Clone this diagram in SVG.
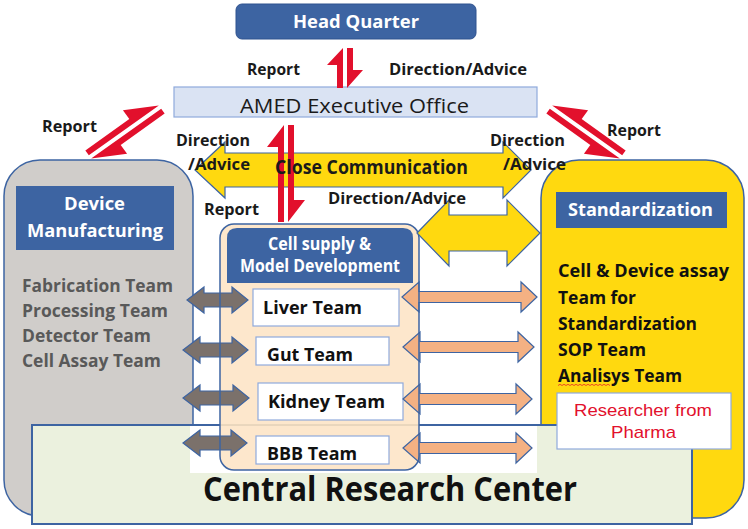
<svg xmlns="http://www.w3.org/2000/svg" width="748" height="529" viewBox="0 0 748 529">
<style>
.b{font-family:"Open Sans","Liberation Sans",sans-serif;font-weight:bold;}
.lbl{font-size:16px;fill:#1a1a1a;}
.wh{fill:#ffffff;font-size:17px;}
.grayt{font-size:17px;fill:#595959;}
.team{font-size:17px;fill:#111111;}
.std{font-size:17px;fill:#111111;}
.hdr{fill:#3d64a2;}
.red{fill:#e2102c;}
.ga{fill:#7b716b;stroke:#3d64a2;stroke-width:1.2;}
.oa{fill:#f4b183;stroke:#3d64a2;stroke-width:1.2;}
.ya{fill:#ffd90f;stroke:#3d64a2;stroke-width:1.2;}
.tb{fill:#ffffff;stroke:#8faadc;stroke-width:1.2;}
</style>
<rect width="748" height="529" fill="#ffffff"/>

<g id="device-manufacturing">
<rect x="4" y="160" width="189" height="356" rx="36" fill="#d0cdca" stroke="#3d64a2" stroke-width="1.5"/>
<rect x="16" y="186" width="158" height="64" class="hdr"/>
<text class="b wh" x="64" y="210" textLength="61" lengthAdjust="spacingAndGlyphs">Device</text>
<text class="b wh" x="27" y="237" textLength="136" lengthAdjust="spacingAndGlyphs">Manufacturing</text>
<text class="b grayt" x="22" y="292" textLength="151" lengthAdjust="spacingAndGlyphs">Fabrication Team</text>
<text class="b grayt" x="22" y="317" textLength="146" lengthAdjust="spacingAndGlyphs">Processing Team</text>
<text class="b grayt" x="22" y="342" textLength="129" lengthAdjust="spacingAndGlyphs">Detector Team</text>
<text class="b grayt" x="22" y="367" textLength="139" lengthAdjust="spacingAndGlyphs">Cell Assay Team</text>
</g>

<g id="standardization">
<rect x="541" y="160" width="203" height="358" rx="38" fill="#ffd90f" stroke="#3d64a2" stroke-width="1.5"/>
<rect x="556" y="192" width="171" height="36" class="hdr"/>
<text class="b wh" x="568" y="216" textLength="145" lengthAdjust="spacingAndGlyphs">Standardization</text>
<text class="b std" x="558" y="277" textLength="171" lengthAdjust="spacingAndGlyphs">Cell &amp; Device assay</text>
<text class="b std" x="558" y="304" textLength="78" lengthAdjust="spacingAndGlyphs">Team for</text>
<text class="b std" x="558" y="330" textLength="139" lengthAdjust="spacingAndGlyphs">Standardization</text>
<text class="b std" x="558" y="356" textLength="88" lengthAdjust="spacingAndGlyphs">SOP Team</text>
<text class="b std" x="558" y="382" textLength="124" lengthAdjust="spacingAndGlyphs">Analisys Team</text>
<path d="M558,385.5 l2,-1.2 2,1.2 2,-1.2 2,1.2 2,-1.2 2,1.2 2,-1.2 2,1.2 2,-1.2 2,1.2 2,-1.2 2,1.2 2,-1.2 2,1.2 2,-1.2 2,1.2 2,-1.2 2,1.2 2,-1.2 2,1.2 2,-1.2 2,1.2 2,-1.2 2,1.2 2,-1.2 2,1.2" fill="none" stroke="#e2102c" stroke-width="0.7"/>
</g>

<g id="central-research-center">
<rect x="32" y="425" width="660" height="99" fill="#ebf1de" stroke="#3d64a2" stroke-width="2"/>
<rect x="190" y="426" width="347" height="47" fill="#ffffff"/>
<text class="b" x="203" y="501" font-size="34" fill="#111111" textLength="374" lengthAdjust="spacingAndGlyphs">Central Research Center</text>
</g>

<g id="researcher-from-pharma">
<rect x="557" y="393" width="174" height="56" class="tb"/>
<text x="574" y="416" font-family="Liberation Sans, Arial, sans-serif" font-size="17" fill="#e2102c" textLength="138" lengthAdjust="spacingAndGlyphs">Researcher from</text>
<text x="611" y="438" font-family="Liberation Sans, Arial, sans-serif" font-size="17" fill="#e2102c" textLength="65" lengthAdjust="spacingAndGlyphs">Pharma</text>
</g>

<g id="cell-supply">
<rect x="220" y="224" width="199" height="246" rx="14" fill="#fde7cc"/>
<line x1="220" y1="425" x2="419" y2="425" stroke="#d6c6ae" stroke-width="1"/>
<path d="M227,283 V238 Q227,228 237,228 H403 Q413,228 413,238 V283 Z" class="hdr"/>
<text class="b wh" x="268" y="250" font-size="15" textLength="103" lengthAdjust="spacingAndGlyphs">Cell supply &amp;</text>
<text class="b wh" x="240" y="272" font-size="15" textLength="160" lengthAdjust="spacingAndGlyphs">Model Development</text>
</g>

<g id="liver-team">
<rect x="253" y="289" width="146" height="37" class="tb"/>
<text class="b team" x="263" y="314" textLength="99" lengthAdjust="spacingAndGlyphs">Liver Team</text>
</g>
<g id="gut-team">
<rect x="256" y="337" width="133" height="28" class="tb"/>
<text class="b team" x="267" y="361" textLength="86" lengthAdjust="spacingAndGlyphs">Gut Team</text>
</g>
<g id="kidney-team">
<rect x="258" y="383" width="145" height="37" class="tb"/>
<text class="b team" x="268" y="408" textLength="117" lengthAdjust="spacingAndGlyphs">Kidney Team</text>
</g>
<g id="bbb-team">
<rect x="256" y="436" width="133" height="28" class="tb"/>
<text class="b team" x="267" y="460" textLength="90" lengthAdjust="spacingAndGlyphs">BBB Team</text>
</g>

<g id="head-quarter">
<rect x="236" y="4" width="240" height="35" rx="6" class="hdr" stroke="#2f528f" stroke-width="1"/>
<text class="b wh" x="293" y="28" font-size="18" textLength="126" lengthAdjust="spacingAndGlyphs">Head Quarter</text>
</g>

<g id="amed-executive-office">
<rect x="174" y="87" width="363" height="30" fill="#dae3f3" stroke="#8faadc" stroke-width="1.2"/>
<text x="240" y="113" font-family="Open Sans, Liberation Sans, sans-serif" font-size="20" fill="#1a1a1a" textLength="229" lengthAdjust="spacingAndGlyphs">AMED Executive Office</text>
</g>

<g id="connectors">
<polygon class="ga" points="187,300 204,287 204,293 232,293 232,287 248,300 232,313 232,307 204,307 204,313"/>
<polygon class="ga" points="183,350 200,337 200,343 232,343 232,337 248,350 232,363 232,357 200,357 200,363"/>
<polygon class="ga" points="183,398 200,385 200,391 233,391 233,385 249,398 233,411 233,405 200,405 200,411"/>
<polygon class="ga" points="183,443 200,430 200,436 231,436 231,430 247,443 231,456 231,450 200,450 200,456"/>
<polygon class="oa" points="402,297 419,282 419,291.5 521,291.5 521,282 537,297 521,312 521,302.5 419,302.5 419,312"/>
<polygon class="oa" points="403,347 420,332 420,341.5 518,341.5 518,332 534,347 518,362 518,352.5 420,352.5 420,362"/>
<polygon class="oa" points="403,399 420,384 420,393.5 516,393.5 516,384 532,399 516,414 516,404.5 420,404.5 420,414"/>
<polygon class="oa" points="403,448 420,433 420,442.5 516,442.5 516,433 532,448 516,463 516,453.5 420,453.5 420,463"/>
<rect x="220" y="224" width="199" height="246" rx="14" fill="none" stroke="#3d64a2" stroke-width="1.5"/>
<polygon class="ya" points="195,170 225,142 225,153 503,153 503,142 531,170 503,198 503,187 225,187 225,198"/>
<polygon class="ya" points="417,233 449,200 449,215 507,215 507,200 540,233 507,266 507,251 449,251 449,266"/>
<g transform="translate(345,68)">
<polygon class="red" points="-2,-20 -18,-3 -8,-3 -8,20 -2,20"/>
<polygon class="red" points="2,-20 8,-20 8,2 18,2 2,20"/>
</g>
<g transform="translate(286,173.5)">
<polygon class="red" points="-2,-48.5 -19,-26.5 -8,-26.5 -8,48.5 -2,48.5"/>
<polygon class="red" points="2,-48.5 8,-48.5 8,26.5 19,26.5 2,48.5"/>
</g>
<g transform="translate(125,132) rotate(54.5)">
<polygon class="red" points="-2,-43 -19,-11 -8,-11 -8,43 -2,43"/>
<polygon class="red" points="2,-43 8,-43 8,11 19,11 2,43"/>
</g>
<g transform="translate(711,0) scale(-1,1) translate(125,132) rotate(54.5)">
<polygon class="red" points="-2,-43 -19,-11 -8,-11 -8,43 -2,43"/>
<polygon class="red" points="2,-43 8,-43 8,11 19,11 2,43"/>
</g>
</g>

<g id="labels">
<text class="b lbl" x="247" y="75" textLength="53" lengthAdjust="spacingAndGlyphs">Report</text>
<text class="b lbl" x="389" y="75" textLength="138" lengthAdjust="spacingAndGlyphs">Direction/Advice</text>
<text class="b lbl" x="42" y="132" textLength="55" lengthAdjust="spacingAndGlyphs">Report</text>
<text class="b lbl" x="607" y="136" textLength="54" lengthAdjust="spacingAndGlyphs">Report</text>
<text class="b lbl" x="176" y="146" textLength="74" lengthAdjust="spacingAndGlyphs">Direction</text>
<text class="b lbl" x="188" y="170" textLength="62" lengthAdjust="spacingAndGlyphs">/Advice</text>
<text class="b lbl" x="490" y="146" textLength="75" lengthAdjust="spacingAndGlyphs">Direction</text>
<text class="b lbl" x="503" y="170" textLength="63" lengthAdjust="spacingAndGlyphs">/Advice</text>
<text class="b" x="275" y="174" font-size="19" fill="#1a1a1a" textLength="193" lengthAdjust="spacingAndGlyphs">Close Communication</text>
<text class="b lbl" x="328" y="204" textLength="138" lengthAdjust="spacingAndGlyphs">Direction/Advice</text>
<text class="b lbl" x="204" y="215" textLength="55" lengthAdjust="spacingAndGlyphs">Report</text>
</g>
</svg>
